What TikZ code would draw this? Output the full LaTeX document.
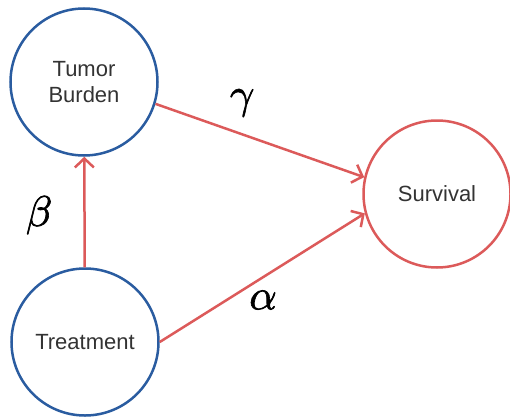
\documentclass[tikz,border=0pt]{standalone}
\usepackage{fontspec}
\setmainfont{Liberation Sans}
\newfontfamily\grfont[FakeBold=1.5]{Latin Modern Math}
\usetikzlibrary{arrows.meta}
\definecolor{nblue}{HTML}{2A5CA0}
\definecolor{ered}{HTML}{DC5A5A}
\definecolor{txt}{HTML}{333333}
\tikzset{
  var/.style={circle, draw=#1, line width=2.5pt, minimum size=147pt, inner sep=0pt, text=txt, font=\fontsize{22}{26}\selectfont, align=center},
  edge/.style={draw=ered, line width=2.5pt, -{Straight Barb[length=9pt,width=19pt,line width=2.5pt]}},
  coef/.style={font=\grfont\fontsize{43}{45}\selectfont, inner sep=0pt}
}
\begin{document}
\begin{tikzpicture}[x=1pt,y=-1pt]
\useasboundingbox (0,0) rectangle (510,417);
\node[var=nblue] (tb) at (84,82) {Tumor\\Burden};
\node[var=nblue] (tr) at (85,342) {Treatment};
\node[var=ered] (sv) at (437,194) {Survival};
\draw[edge] (tr) -- (tb);
\draw[edge] (tb.-17) -- (sv.167);
\draw[edge] (tr.0) -- (sv.195);
\node[coef] (g) at (241,103) {𝛾};
\node[coef] (b) at (38,215) {𝛽};
\node[coef] (a) at (263,300) {𝛼};
\end{tikzpicture}
\end{document}
